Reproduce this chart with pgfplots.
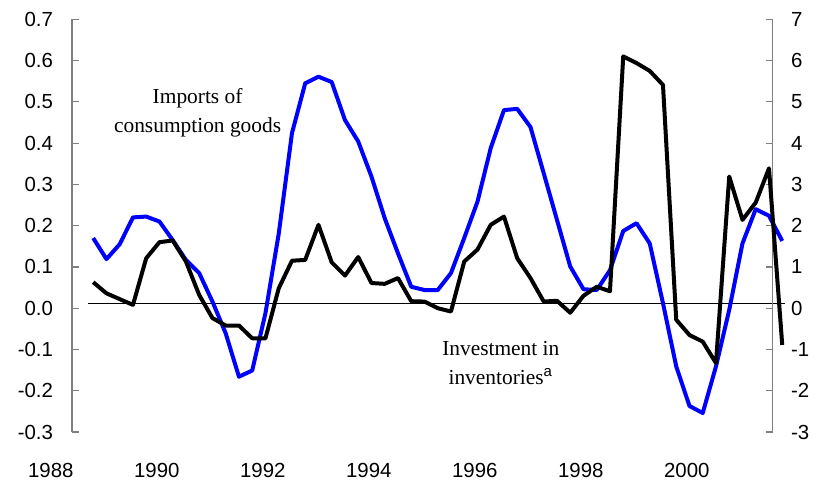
\documentclass[border=0pt]{standalone}
\usepackage{fontspec}
\setmainfont{Liberation Serif}
\setsansfont{Liberation Sans}
\usepackage{pgfplots}
\usepackage{pgfplotstable}
\pgfplotsset{compat=1.18}

% quarterly values; imp on the left scale, inv on the right
\pgfplotstableread{
x       imp     inv
1988.80  0.170   0.63
1989.05  0.119   0.36
1989.30  0.155   0.22
1989.55  0.220   0.08
1989.80  0.222   1.21
1990.05  0.210   1.60
1990.30  0.165   1.64
1990.55  0.117   1.13
1990.80  0.085   0.32
1991.05  0.016  -0.24
1991.30 -0.061  -0.42
1991.55 -0.166  -0.42
1991.80 -0.151  -0.73
1992.05 -0.012  -0.73
1992.30  0.180   0.48
1992.55  0.424   1.15
1992.80  0.545   1.17
1993.05  0.561   2.02
1993.30  0.548   1.11
1993.55  0.456   0.79
1993.80  0.404   1.24
1994.05  0.319   0.61
1994.30  0.218   0.59
1994.55  0.133   0.73
1994.80  0.052   0.17
1995.05  0.044   0.16
1995.30  0.044   0.00
1995.55  0.085  -0.08
1995.80  0.170   1.13
1996.05  0.258   1.42
1996.30  0.388   2.02
1996.55  0.480   2.22
1996.80  0.483   1.21
1997.05  0.439   0.73
1997.30  0.327   0.16
1997.55  0.214   0.18
1997.80  0.101  -0.11
1998.05  0.046   0.30
1998.30  0.044   0.52
1998.55  0.092   0.41
1998.80  0.187   6.10
1999.05  0.206   5.94
1999.30  0.157   5.75
1999.55  0.012   5.41
1999.80 -0.141  -0.28
2000.05 -0.237  -0.65
2000.30 -0.254  -0.81
2000.55 -0.141  -1.33
2000.80 -0.004   3.19
2001.05  0.157   2.14
2001.30  0.240   2.56
2001.55  0.224   3.39
2001.80  0.163  -0.89
}\chartdata

\begin{document}
\begin{tikzpicture}
\useasboundingbox (0,0) rectangle (413.5pt,242pt);

% year labels only
\begin{axis}[
    scale only axis, width=397.5pt, height=206.35pt,
    at={(12.15pt,26pt)}, anchor=south west,
    xmin=1987.5, xmax=2002.5, ymin=0, ymax=1,
    axis x line*=bottom, axis y line=none,
    x axis line style={draw=none}, xtick style={draw=none},
    xtick={1988,1990,1992,1994,1996,1998,2000},
    xticklabels={1988,1990,1992,1994,1996,1998,2000},
    xticklabel style={font=\sffamily\fontsize{10.2}{12}\selectfont, yshift=-12.3pt},
]
\end{axis}

% left scale: imports of consumption goods
\begin{axis}[
    scale only axis, width=350.35pt, height=206.35pt,
    at={(36pt,26pt)}, anchor=south west,
    xmin=1988.40, xmax=2001.62, ymin=-0.3, ymax=0.7,
    axis y line*=left, axis x line=none,
    ytick={-0.3,-0.2,-0.1,0,0.1,0.2,0.3,0.4,0.5,0.6,0.7},
    yticklabels={-0.3,-0.2,-0.1,0.0,0.1,0.2,0.3,0.4,0.5,0.6,0.7},
    tick align=inside, major tick length=3.5pt,
    y axis line style={draw=gray, line width=0.6pt},
    ytick style={draw=gray, line width=0.6pt},
    yticklabel style={font=\sffamily\fontsize{10.2}{12}\selectfont, xshift=-6pt},
    clip=false,
]
\addplot[black, line width=0.7pt] coordinates {(1988.70,0.012) (2001.85,0.012)};
\addplot[color={rgb,255:red,0;green,0;blue,255}, line width=2pt, line join=round]
    table[x=x, y=imp] {\chartdata};
\node[align=center, font=\fontsize{10.7}{14.5}\selectfont] at (axis cs:1990.77,0.474)
    {Imports of\\consumption goods};
\node[align=center, font=\fontsize{10.7}{14.5}\selectfont] at (axis cs:1996.49,-0.132)
    {Investment in\\inventories{\sffamily\textsuperscript{a}}};
\end{axis}

% right scale: investment in inventories
\begin{axis}[
    scale only axis, width=350.35pt, height=206.35pt,
    at={(36pt,26pt)}, anchor=south west,
    xmin=1988.40, xmax=2001.62, ymin=-3, ymax=7,
    axis y line*=right, axis x line=none,
    ytick={-3,-2,-1,0,1,2,3,4,5,6,7},
    yticklabels={-3,-2,-1,0,1,2,3,4,5,6,7},
    tick align=inside, major tick length=3.5pt,
    y axis line style={draw=gray, line width=0.6pt},
    ytick style={draw=gray, line width=0.6pt},
    yticklabel style={font=\sffamily\fontsize{10.2}{12}\selectfont, xshift=5.7pt},
    clip=false,
]
\addplot[black, line width=2pt, line join=round]
    table[x=x, y=inv] {\chartdata};
\end{axis}
\end{tikzpicture}
\end{document}
